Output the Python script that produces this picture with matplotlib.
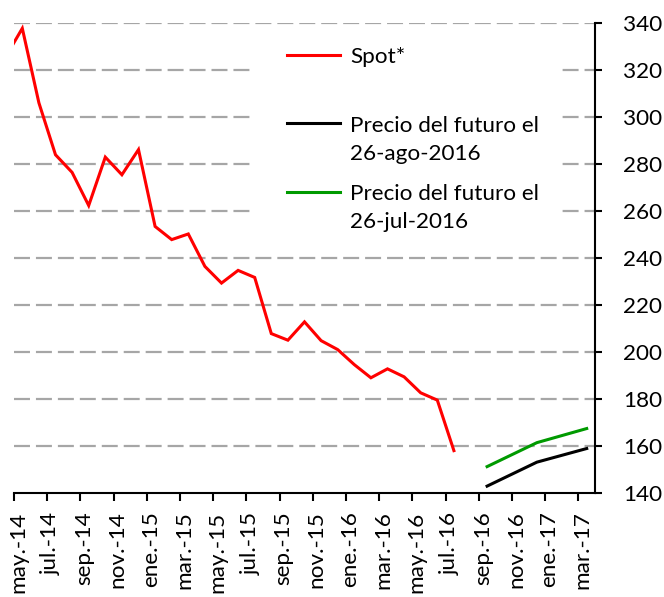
import matplotlib
matplotlib.use("Agg")
import matplotlib.pyplot as plt
import matplotlib.transforms as mtransforms
import pandas as pd
import numpy as np
from matplotlib.lines import Line2D
from matplotlib.legend_handler import HandlerLine2D

# ---------------- data ----------------
spot_start = "2014-04"
spot_values = [325.5, 337.6, 305.9, 283.8, 276.3, 262.2, 282.8, 275.3, 286.0,
               253.3, 247.7, 250.1, 236.3, 229.2, 234.6, 231.6, 207.7, 204.9,
               212.7, 204.7, 200.9, 194.5, 188.9, 192.7, 189.3, 182.5, 179.4,
               157.9]
future_months = ["2016-09", "2016-12", "2017-03"]
future_aug_values = [142.8, 153.0, 158.8]   # 26-ago-2016
future_jul_values = [151.1, 161.3, 167.3]   # 26-jul-2016
tick_labels = ["may.-14", "jul.-14", "sep.-14", "nov.-14", "ene.-15", "mar.-15",
               "may.-15", "jul.-15", "sep.-15", "nov.-15", "ene.-16", "mar.-16",
               "may.-16", "jul.-16", "sep.-16", "nov.-16", "ene.-17", "mar.-17"]
y_ticks = [140, 160, 180, 200, 220, 240, 260, 280, 300, 320, 340]
legend_labels = ["Spot*", "Precio del futuro el\n26-ago-2016",
                 "Precio del futuro el\n26-jul-2016"]

axis_origin = pd.Period("2014-05", "M")


def month_pos(period):
    return (period - axis_origin).n + 0.5


spot_periods = pd.period_range(spot_start, periods=len(spot_values), freq="M")
spot_x = [month_pos(p) for p in spot_periods]
fut_x = [month_pos(pd.Period(m, "M")) for m in future_months]

# ---------------- style ----------------
plt.rcParams["font.family"] = ["Lato", "DejaVu Sans"]
plt.rcParams["lines.scale_dashes"] = False
FS = 16.2

fig = plt.figure(figsize=(6.64, 5.97), dpi=100)
ax = fig.add_axes([14 / 664, (597 - 492.7) / 597, (595 - 14) / 664, (492.7 - 22.7) / 597])

red_line, = ax.plot(spot_x, spot_values, color="#FF0000", lw=2.2, solid_joinstyle="miter", zorder=3)
blk_line, = ax.plot(fut_x, future_aug_values, color="#000000", lw=2.2, zorder=3)
grn_line, = ax.plot(fut_x, future_jul_values, color="#009A00", lw=2.2, zorder=3)

ax.set_xlim(0, 35)
ax.set_ylim(140, 340)

ax.set_xticks(np.arange(0, 35, 2))
ax.set_xticklabels(tick_labels, rotation=90, fontsize=FS)
ax.set_yticks(y_ticks)
ax.set_yticklabels([str(v) for v in y_ticks], fontsize=FS)

ax.yaxis.tick_right()
ax.tick_params(axis="y", direction="out", length=5, width=1.5, pad=15, colors="black")
ax.tick_params(axis="x", direction="out", length=5.5, width=1.5, pad=8, colors="black")

shift = mtransforms.ScaledTranslation(4 / 100, 0, fig.dpi_scale_trans)
for lab in ax.get_xticklabels():
    lab.set_transform(lab.get_transform() + shift)

for side in ["top", "left"]:
    ax.spines[side].set_visible(False)
for side in ["right", "bottom"]:
    ax.spines[side].set_linewidth(1.5)
    ax.spines[side].set_color("black")

ax.yaxis.grid(True, color="#A6A6A6", lw=1.6, linestyle=(0, (11.5, 4.3)))
ax.xaxis.grid(False)
ax.set_axisbelow(True)
# hide 140 gridline (coincides with axis)
ax.get_ygridlines()[0].set_visible(False)


# --------------- legend -----------------
LINE_PT = 53 * 72 / 100  # visible line length in points


class FirstLineHandler(HandlerLine2D):
    def __init__(self, dy, **kw):
        super().__init__(**kw)
        self.dy = dy

    def create_artists(self, legend, orig_handle, xdescent, ydescent, width,
                       height, fontsize, trans):
        arts = super().create_artists(legend, orig_handle, xdescent, ydescent,
                                      width, height, fontsize, trans)
        for a in arts:
            if isinstance(a, Line2D):
                y0 = float(np.ravel(a.get_ydata())[0]) + self.dy
                x1 = width - xdescent
                a.set_data([x1 - LINE_PT, x1], [y0, y0])
        return arts


dy = 11.8
handles = [red_line, blk_line, grn_line]
labels = [legend_labels[0] + "\n"] + legend_labels[1:]
leg = ax.legend(handles, labels,
                handler_map={h: FirstLineHandler(dy) for h in handles},
                loc="upper left", bbox_to_anchor=(250 / 664, 1 - 29 / 597),
                bbox_transform=fig.transFigure, borderaxespad=0,
                fontsize=FS, frameon=True, facecolor="white", edgecolor="none",
                framealpha=1, fancybox=False, borderpad=0.8,
                handlelength=3.2, handletextpad=0.45, labelspacing=0.9)
for t in leg.get_texts():
    t.set_linespacing(1.52)
leg.set_zorder(2.5)

fig.savefig("out.png", dpi=100)
